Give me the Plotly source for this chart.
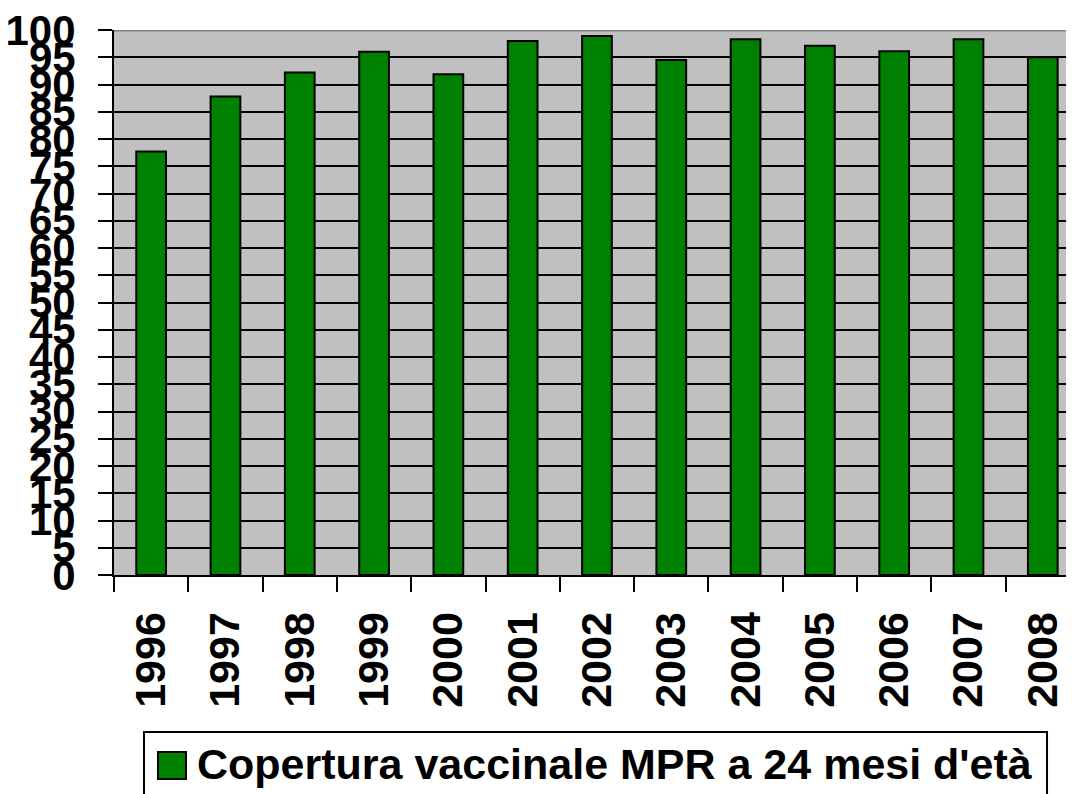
import plotly.graph_objects as go

years = ["1996", "1997", "1998", "1999", "2000", "2001", "2002",
         "2003", "2004", "2005", "2006", "2007", "2008"]
coverage = [77.7, 87.8, 92.2, 96.0, 91.9, 98.0, 98.9,
            94.5, 98.3, 97.1, 96.1, 98.3, 95.0]
series_name = "Copertura vaccinale MPR a 24 mesi d'età"
y_ticks = list(range(0, 101, 5))

FONT = "Arial, Liberation Sans, sans-serif"
GREEN = "#008000"

fig = go.Figure(go.Bar(
    x=years,
    y=coverage,
    name=series_name,
    marker=dict(color=GREEN, line=dict(color="black", width=2)),
    showlegend=False,
))

# the page body adds an 8px offset, margins compensate for it
fig.update_layout(
    width=1074, height=794,
    margin=dict(l=106, r=8, t=22, b=227),
    paper_bgcolor="white",
    plot_bgcolor="#C0C0C0",
    bargap=0.6,
    font=dict(family=FONT, size=42, color="black", weight="bold"),
)

fig.update_xaxes(
    type="category", range=[-0.5, 12.42], automargin=False,
    tickson="boundaries", ticks="outside", ticklen=15, tickwidth=2, tickcolor="black",
    tickangle=-90, showline=True, linecolor="black", linewidth=2,
    showgrid=False, ticklabelstandoff=18, tickfont=dict(size=43),
    ticklabeloverflow="allow",
)
fig.update_yaxes(
    range=[0, 100], tickvals=y_ticks, automargin=False,
    ticks="outside", ticklen=14, tickwidth=2, tickcolor="black",
    showline=True, linecolor="black", linewidth=2,
    showgrid=True, gridcolor="black", gridwidth=2,
    zeroline=False, ticklabelstandoff=14, tickfont=dict(size=42),
    ticklabeloverflow="allow",
)

# grey top border of the plot area
fig.add_shape(type="line", xref="paper", yref="y", x0=0, x1=1, y0=100, y1=100,
              line=dict(color="#808080", width=3))

# legend box drawn by hand so the swatch can be as large as in the original
fig.add_shape(type="rect", xref="paper", yref="paper",
              x0=0.03125, x1=0.9719, y0=-0.288, y1=-0.42,
              line=dict(color="black", width=2), fillcolor="white")
fig.add_shape(type="rect", xref="paper", yref="paper",
              x0=0.0458, x1=0.075, y0=-0.3248, y1=-0.3743,
              line=dict(color="black", width=2), fillcolor=GREEN)
fig.add_annotation(xref="paper", yref="paper", x=0.0844, y=-0.347,
                   xanchor="left", yanchor="middle", showarrow=False,
                   text=series_name, font=dict(size=43))

fig.write_html("out.html")
